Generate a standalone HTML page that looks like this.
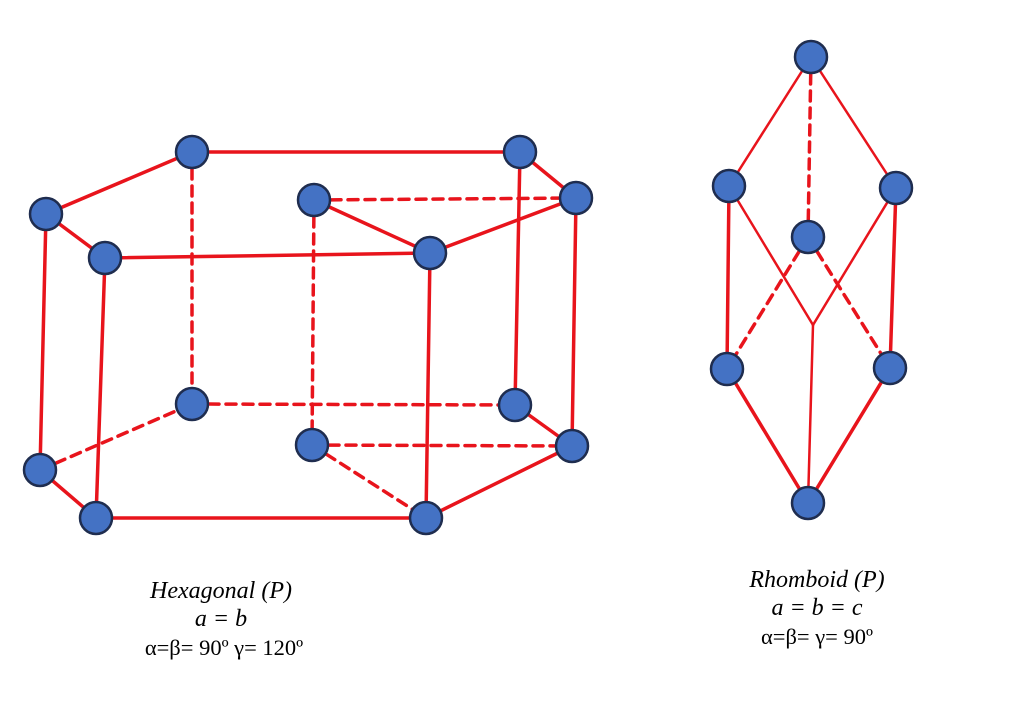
<!DOCTYPE html>
<html><head><meta charset="utf-8"><style>
html,body{margin:0;padding:0;background:#fff;}
svg{display:block}
text{font-family:"Liberation Serif",serif;fill:#000;}
</style></head><body>
<svg width="1024" height="708" viewBox="0 0 1024 708" xmlns="http://www.w3.org/2000/svg">
<g stroke="#e8141c" stroke-width="3.5" fill="none" stroke-linecap="round">
<line x1="46" y1="214" x2="192" y2="152"/>
<line x1="192" y1="152" x2="520" y2="152"/>
<line x1="520" y1="152" x2="576" y2="198"/>
<line x1="46" y1="214" x2="105" y2="258"/>
<line x1="105" y1="258" x2="430" y2="253"/>
<line x1="430" y1="253" x2="576" y2="198"/>
<line x1="314" y1="200" x2="430" y2="253"/>
<line x1="314" y1="200" x2="576" y2="198" stroke-dasharray="10,7"/>
<line x1="46" y1="214" x2="40" y2="470"/>
<line x1="105" y1="258" x2="96" y2="518"/>
<line x1="430" y1="253" x2="426" y2="518"/>
<line x1="576" y1="198" x2="572" y2="446"/>
<line x1="520" y1="152" x2="515" y2="405"/>
<line x1="192" y1="152" x2="192" y2="404" stroke-dasharray="10,7"/>
<line x1="314" y1="200" x2="312" y2="445" stroke-dasharray="10,7"/>
<line x1="40" y1="470" x2="96" y2="518"/>
<line x1="96" y1="518" x2="426" y2="518"/>
<line x1="426" y1="518" x2="572" y2="446"/>
<line x1="572" y1="446" x2="515" y2="405"/>
<line x1="40" y1="470" x2="192" y2="404" stroke-dasharray="10,7"/>
<line x1="192" y1="404" x2="515" y2="405" stroke-dasharray="10,7"/>
<line x1="312" y1="445" x2="572" y2="446" stroke-dasharray="10,7"/>
<line x1="312" y1="445" x2="426" y2="518" stroke-dasharray="10,7"/>
<line x1="811" y1="57" x2="729" y2="186" stroke-width="2.5"/>
<line x1="811" y1="57" x2="896" y2="188" stroke-width="2.5"/>
<line x1="811" y1="57" x2="808" y2="237" stroke-dasharray="10,7"/>
<line x1="729" y1="186" x2="727" y2="369"/>
<line x1="896" y1="188" x2="890" y2="368"/>
<line x1="729" y1="186" x2="813" y2="325" stroke-width="2.5"/>
<line x1="896" y1="188" x2="813" y2="325" stroke-width="2.5"/>
<line x1="813" y1="325" x2="808" y2="503" stroke-width="2.5"/>
<line x1="808" y1="237" x2="727" y2="369" stroke-dasharray="10,7"/>
<line x1="808" y1="237" x2="890" y2="368" stroke-dasharray="10,7"/>
<line x1="727" y1="369" x2="808" y2="503"/>
<line x1="890" y1="368" x2="808" y2="503"/>
</g>
<g fill="#4472c4" stroke="#1f2d4f" stroke-width="2.5">
<circle cx="192" cy="152" r="16"/><circle cx="520" cy="152" r="16"/>
<circle cx="576" cy="198" r="16"/><circle cx="314" cy="200" r="16"/>
<circle cx="430" cy="253" r="16"/><circle cx="105" cy="258" r="16"/>
<circle cx="46" cy="214" r="16"/>
<circle cx="192" cy="404" r="16"/><circle cx="515" cy="405" r="16"/>
<circle cx="572" cy="446" r="16"/><circle cx="312" cy="445" r="16"/>
<circle cx="426" cy="518" r="16"/><circle cx="96" cy="518" r="16"/>
<circle cx="40" cy="470" r="16"/>
<circle cx="811" cy="57" r="16"/><circle cx="729" cy="186" r="16"/>
<circle cx="896" cy="188" r="16"/><circle cx="808" cy="237" r="16"/>
<circle cx="727" cy="369" r="16"/><circle cx="890" cy="368" r="16"/>
<circle cx="808" cy="503" r="16"/>
</g>
<g text-anchor="middle">
<text x="221" y="598" font-style="italic" font-size="24">Hexagonal (P)</text>
<text x="221" y="626" font-style="italic" font-size="24">a = b</text>
<text x="224" y="655" font-size="22.5">α=β= 90º γ= 120º</text>
<text x="817" y="587" font-style="italic" font-size="24">Rhomboid (P)</text>
<text x="817" y="615" font-style="italic" font-size="24">a = b = c</text>
<text x="817" y="644" font-size="22.5">α=β= γ= 90º</text>
</g>
</svg>
</body></html>
